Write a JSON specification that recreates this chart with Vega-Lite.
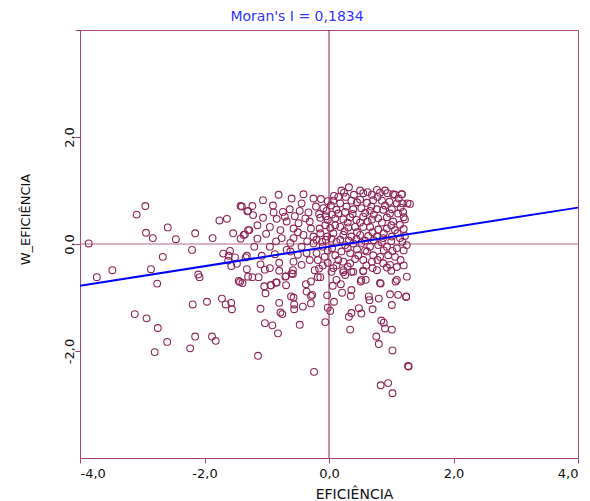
{
  "$schema": "https://vega.github.io/schema/vega-lite/v6.json",
  "width": 498,
  "height": 428,
  "autosize": {"type": "none"},
  "padding": {"left": 80, "top": 30, "right": 12, "bottom": 43},
  "background": "white",
  "config": {
    "view": {"stroke": "#b04a7e", "strokeWidth": 1},
    "font": "DejaVu Sans",
    "axis": {"grid": false, "domainColor": "#a8407a", "tickColor": "#a8407a", "tickSize": 5, "labelFont": "DejaVu Sans", "labelFontSize": 13, "labelColor": "#111111", "titleFont": "DejaVu Sans", "titleFontWeight": "normal", "titleColor": "#111111"}
  },
  "title": {"text": "Moran's I = 0,1834", "color": "#3333ff", "fontSize": 14, "fontWeight": "normal", "font": "DejaVu Sans", "anchor": "middle", "dx": -32, "offset": 6},
  "datasets": {
    "pts": [
      {"x":-3.86,"y":0.01},{"x":-2.95,"y":0.71},{"x":-3.09,"y":0.55},{"x":-2.94,"y":0.21},{"x":-2.83,"y":0.11},{"x":-2.59,"y":0.31},{"x":-2.46,"y":0.09},{"x":-2.15,"y":0.2},{"x":-1.87,"y":0.11},{"x":-1.76,"y":0.44},{"x":-1.64,"y":0.47},{"x":-1.42,"y":0.71},{"x":-1.31,"y":0.61},{"x":-1.54,"y":0.2},{"x":-1.42,"y":0.1},{"x":-1.35,"y":0.18},{"x":-1.3,"y":0.26},{"x":-2.2,"y":-0.11},{"x":-2.67,"y":-0.24},{"x":-2.86,"y":-0.47},{"x":-3.48,"y":-0.49},{"x":-3.73,"y":-0.62},{"x":-2.76,"y":-0.74},{"x":-2.1,"y":-0.57},{"x":-2.08,"y":-0.62},{"x":-1.7,"y":-0.18},{"x":-1.59,"y":-0.13},{"x":-1.61,"y":-0.22},{"x":-1.51,"y":-0.25},{"x":-1.62,"y":-0.31},{"x":-1.57,"y":-0.41},{"x":-1.48,"y":-0.37},{"x":-1.34,"y":-0.25},{"x":-1.45,"y":-0.69},{"x":-1.39,"y":-0.73},{"x":-1.3,"y":-0.61},{"x":-1.72,"y":-1.02},{"x":-1.66,"y":-1.13},{"x":-1.57,"y":-1.1},{"x":-1.56,"y":-1.22},{"x":-1.96,"y":-1.08},{"x":-2.19,"y":-1.13},{"x":-3.12,"y":-1.31},{"x":-2.93,"y":-1.39},{"x":-2.75,"y":-1.57},{"x":-2.6,"y":-1.83},{"x":-2.8,"y":-2.02},{"x":-2.15,"y":-1.73},{"x":-1.88,"y":-1.73},{"x":-1.82,"y":-1.81},{"x":-2.23,"y":-1.95},
      {"x":-0.81,"y":0.92},{"x":-0.41,"y":0.93},{"x":-1.06,"y":0.82},{"x":-0.44,"y":0.76},{"x":-0.13,"y":0.84},{"x":-1.23,"y":0.71},{"x":-1.4,"y":0.7},{"x":-1.3,"y":0.62},{"x":-1.22,"y":0.54},{"x":-1.06,"y":0.49},{"x":-0.89,"y":0.59},{"x":-0.74,"y":0.6},{"x":-0.63,"y":0.65},{"x":-0.47,"y":0.62},{"x":-0.33,"y":0.59},{"x":-0.21,"y":0.7},{"x":-0.09,"y":0.67},{"x":-0.16,"y":0.56},{"x":-0.84,"y":0.47},{"x":-0.71,"y":0.51},{"x":-0.68,"y":0.42},{"x":-0.57,"y":0.29},{"x":-0.49,"y":0.39},{"x":-0.31,"y":0.42},{"x":-0.14,"y":0.49},{"x":-0.05,"y":0.52},{"x":-0.29,"y":0.29},{"x":-0.15,"y":0.29},{"x":-0.06,"y":0.35},{"x":-0.78,"y":0.26},{"x":-1.28,"y":0.26},{"x":-1.37,"y":0.17},{"x":-1.01,"y":0.19},{"x":-0.76,"y":0.11},{"x":-0.57,"y":0.11},{"x":-0.41,"y":0.17},{"x":-0.25,"y":0.14},{"x":-0.14,"y":0.2},{"x":-0.03,"y":0.14},{"x":-0.44,"y":-0.05},{"x":-0.25,"y":0.01},{"x":-0.11,"y":0.04},{"x":-0.68,"y":-0.11},{"x":-0.62,"y":-0.14},{"x":-0.87,"y":-0.19},{"x":-1.08,"y":-0.22},{"x":-1.32,"y":-0.22},{"x":-0.36,"y":-0.17},{"x":-0.2,"y":-0.17},{"x":-0.31,"y":-0.3},{"x":-0.18,"y":-0.3},{"x":-0.07,"y":-0.24},{"x":-0.57,"y":-0.33},{"x":-0.44,"y":-0.39},{"x":-1.1,"y":-0.38},
      {"x":-1.32,"y":-0.47},{"x":-1.03,"y":-0.48},{"x":-1.23,"y":-0.62},{"x":-1.13,"y":-0.62},{"x":-0.58,"y":-0.49},{"x":-0.6,"y":-0.55},{"x":-0.16,"y":-0.46},{"x":-0.23,"y":-0.49},{"x":-0.14,"y":-0.62},{"x":-0.7,"y":-0.61},{"x":-0.85,"y":-0.72},{"x":-0.94,"y":-0.77},{"x":-1.04,"y":-0.79},{"x":-0.69,"y":-0.77},{"x":-0.37,"y":-0.75},{"x":-0.29,"y":-0.7},{"x":-0.36,"y":-0.89},{"x":-0.27,"y":-0.95},{"x":-0.29,"y":-0.97},{"x":-0.57,"y":-1.0},{"x":-0.61,"y":-0.98},{"x":-0.56,"y":-1.13},{"x":-0.56,"y":-1.22},{"x":-0.42,"y":-1.17},{"x":-0.29,"y":-1.11},{"x":-0.8,"y":-1.1},{"x":-0.78,"y":-1.28},{"x":-0.75,"y":-1.31},{"x":-1.1,"y":-1.21},{"x":-1.03,"y":-1.48},{"x":-0.91,"y":-1.52},{"x":-0.82,"y":-1.67},{"x":-0.47,"y":-1.51},{"x":-0.06,"y":-1.46},{"x":-0.03,"y":-0.96},{"x":-0.02,"y":-1.19},{"x":-1.14,"y":-2.09},{"x":-0.24,"y":-2.39},{"x":-1.43,"y":-0.71},{"x":-1.02,"y":-0.92},{"x":-0.69,"y":-0.6},{"x":-0.58,"y":-0.56},{"x":-0.18,"y":-0.62},{"x":-0.93,"y":-0.77},{"x":-0.84,"y":-0.72},
      {"x":0.06,"y":-0.78},{"x":0.19,"y":-0.75},{"x":0.21,"y":-0.91},{"x":0.36,"y":-0.86},{"x":0.35,"y":-0.97},{"x":0.51,"y":-0.7},{"x":0.59,"y":-0.67},{"x":0.83,"y":-0.74},{"x":1.07,"y":-0.7},{"x":0.64,"y":-0.98},{"x":0.65,"y":-1.05},{"x":0.8,"y":-1.02},{"x":0.98,"y":-0.94},{"x":1.11,"y":-0.95},{"x":1.24,"y":-0.99},{"x":1.01,"y":-1.14},{"x":0.08,"y":-1.08},{"x":0.02,"y":-1.25},{"x":0.48,"y":-1.2},{"x":0.36,"y":-1.29},{"x":0.52,"y":-1.3},{"x":0.32,"y":-1.36},{"x":0.7,"y":-1.22},{"x":0.34,"y":-1.6},{"x":0.84,"y":-1.43},{"x":0.88,"y":-1.47},{"x":0.9,"y":-1.58},{"x":1.01,"y":-1.6},{"x":0.76,"y":-1.73},{"x":0.8,"y":-1.87},{"x":1.02,"y":-1.99},{"x":1.28,"y":-2.29},{"x":0.83,"y":-2.64},{"x":0.95,"y":-2.6},{"x":1.02,"y":-2.79},
      {"x":0.04,"y":-0.52},{"x":0.23,"y":-0.53},{"x":0.36,"y":-0.52},{"x":0.55,"y":-0.51},{"x":0.12,"y":-0.67},{"x":0.26,"y":-0.58},{"x":0.52,"y":-0.67},{"x":0.82,"y":-0.73},{"x":1.09,"y":-0.67},{"x":1.25,"y":-0.61},
      {"x":0.32,"y":1.06},{"x":0.24,"y":0.96},{"x":0.27,"y":0.88},{"x":0.55,"y":0.95},{"x":0.69,"y":0.92},{"x":0.82,"y":0.96},{"x":0.94,"y":0.95},{"x":1.06,"y":0.92},{"x":1.17,"y":0.93},{"x":1.26,"y":0.76},{"x":1.3,"y":0.75},
      {"x":0.07,"y":0.81},{"x":0.18,"y":0.76},{"x":0.36,"y":0.81},{"x":0.5,"y":0.83},{"x":0.61,"y":0.77},{"x":0.71,"y":0.82},{"x":0.85,"y":0.81},{"x":0.97,"y":0.79},{"x":1.09,"y":0.76},{"x":1.19,"y":0.6},
      {"x":0.12,"y":0.64},{"x":0.26,"y":0.6},{"x":0.39,"y":0.65},{"x":0.52,"y":0.67},{"x":0.66,"y":0.62},{"x":0.77,"y":0.65},{"x":0.87,"y":0.64},{"x":1.01,"y":0.65},{"x":1.11,"y":0.57},{"x":1.22,"y":0.46},
      {"x":0.1,"y":0.48},{"x":0.23,"y":0.46},{"x":0.34,"y":0.5},{"x":0.44,"y":0.45},{"x":0.55,"y":0.51},{"x":0.69,"y":0.46},{"x":0.79,"y":0.48},{"x":0.93,"y":0.5},{"x":1.03,"y":0.42},{"x":1.14,"y":0.36},
      {"x":0.18,"y":0.32},{"x":0.31,"y":0.31},{"x":0.42,"y":0.32},{"x":0.55,"y":0.32},{"x":0.66,"y":0.32},{"x":0.79,"y":0.27},{"x":0.93,"y":0.29},{"x":1.06,"y":0.26},
      {"x":0.07,"y":0.2},{"x":0.23,"y":0.17},{"x":0.36,"y":0.14},{"x":0.5,"y":0.17},{"x":0.63,"y":0.15},{"x":0.77,"y":0.14},{"x":0.87,"y":0.11},{"x":1.01,"y":0.14},{"x":1.14,"y":0.11},{"x":1.25,"y":-0.02},
      {"x":0.12,"y":0.04},{"x":0.26,"y":-0.02},{"x":0.39,"y":0.01},{"x":0.52,"y":0.02},{"x":0.66,"y":-0.05},{"x":0.79,"y":-0.02},{"x":0.93,"y":-0.05},{"x":1.09,"y":-0.08},
      {"x":0.1,"y":-0.21},{"x":0.2,"y":-0.14},{"x":0.34,"y":-0.17},{"x":0.47,"y":-0.21},{"x":0.61,"y":-0.14},{"x":0.71,"y":-0.21},{"x":0.82,"y":-0.24},{"x":0.95,"y":-0.21},{"x":1.06,"y":-0.24},
      {"x":0.23,"y":-0.33},{"x":0.34,"y":-0.36},{"x":0.55,"y":-0.3},{"x":0.69,"y":-0.33},{"x":0.87,"y":-0.36},{"x":0.98,"y":-0.39},
      {"x":0.07,"y":-0.45},{"x":0.23,"y":-0.49},{"x":0.39,"y":-0.52},{"x":0.55,"y":-0.5},{"x":0.77,"y":-0.49},{"x":0.93,"y":-0.44},{"x":1.09,"y":-0.43},
      {"x":0.77,"y":1.01},{"x":1.03,"y":0.93},{"x":1.18,"y":0.76},{"x":1.17,"y":0.93},{"x":1.24,"y":-0.98},{"x":1.27,"y":-2.28},
      {"x":0.02,"y":0.3},{"x":0.05,"y":0.55},{"x":0.03,"y":0.72},{"x":0.15,"y":0.88},{"x":0.4,"y":0.92},{"x":0.62,"y":0.97},{"x":0.45,"y":0.78},{"x":0.78,"y":0.88},{"x":1.12,"y":0.85},{"x":0.28,"y":0.7},{"x":0.58,"y":0.58},{"x":0.9,"y":0.72},{"x":1.15,"y":0.68},{"x":0.15,"y":0.57},{"x":0.38,"y":0.56},{"x":0.72,"y":0.55},{"x":0.98,"y":0.57},{"x":1.2,"y":0.5},{"x":0.3,"y":0.4},{"x":0.5,"y":0.4},{"x":0.62,"y":0.42},{"x":0.85,"y":0.4},{"x":1.0,"y":0.35},{"x":1.2,"y":0.28},{"x":0.1,"y":0.35},{"x":0.25,"y":0.24},{"x":0.45,"y":0.22},{"x":0.7,"y":0.22},{"x":0.88,"y":0.2},{"x":1.1,"y":0.2},{"x":1.22,"y":0.15},{"x":0.04,"y":0.1},{"x":0.18,"y":0.08},{"x":0.32,"y":0.06},{"x":0.44,"y":0.09},{"x":0.58,"y":0.06},{"x":0.72,"y":0.07},{"x":0.85,"y":0.03},{"x":1.0,"y":0.05},{"x":1.18,"y":0.04},{"x":0.05,"y":-0.08},{"x":0.3,"y":-0.08},{"x":0.45,"y":-0.1},{"x":0.58,"y":-0.12},{"x":0.88,"y":-0.12},{"x":1.02,"y":-0.13},{"x":1.2,"y":-0.12},{"x":0.15,"y":-0.3},{"x":0.42,"y":-0.28},{"x":0.6,"y":-0.4},{"x":0.78,"y":-0.3},{"x":1.15,"y":-0.3},{"x":0.12,"y":-0.4},{"x":0.3,"y":-0.42},{"x":0.7,"y":-0.45},{"x":1.0,"y":-0.5},{"x":1.2,"y":-0.4},{"x":0.5,"y":1.0},{"x":0.9,"y":1.0},{"x":0.68,"y":0.7},{"x":0.08,"y":0.9},{"x":0.2,"y":1.0},
      {"x":-0.05,"y":0.08},{"x":-0.1,"y":-0.05},{"x":-0.02,"y":-0.12},{"x":-0.2,"y":0.08},{"x":-0.35,"y":0.05},{"x":-0.5,"y":0.22},{"x":-0.62,"y":0.02},{"x":-0.85,"y":0.05},{"x":-0.95,"y":0.32},{"x":-1.15,"y":0.1},{"x":-0.95,"y":-0.05},{"x":-0.8,"y":-0.35},{"x":-0.5,"y":-0.2},{"x":-0.02,"y":-0.35},{"x":-0.1,"y":-0.4},{"x":-0.02,"y":0.45},{"x":-0.04,"y":0.62},{"x":-0.02,"y":0.8},{"x":-0.25,"y":0.85},{"x":-0.6,"y":0.85},{"x":-0.9,"y":0.72},{"x":-0.55,"y":0.52},{"x":-0.38,"y":0.48},{"x":-1.15,"y":0.35},{"x":-0.95,"y":-0.45},{"x":-0.8,"y":-0.5},{"x":-1.2,"y":-0.05}
    ],
    "fit": [{"x": -4, "y": -0.78}, {"x": 4, "y": 0.68}],
    "zero": [{"z": 0}]
  },
  "layer": [
    {
      "data": {"name": "zero"},
      "mark": {"type": "rule", "color": "#b8648f", "strokeWidth": 1},
      "encoding": {"y": {"field": "z", "type": "quantitative", "scale": {"domain": [-4, 4], "nice": false, "zero": false}}}
    },
    {
      "data": {"name": "zero"},
      "mark": {"type": "rule", "color": "#8c1c50", "strokeWidth": 1},
      "encoding": {"x": {"field": "z", "type": "quantitative", "scale": {"domain": [-4, 4], "nice": false, "zero": false}}}
    },
    {
      "data": {"name": "pts"},
      "mark": {"type": "point", "shape": "circle", "filled": false, "stroke": "#8e2457", "strokeWidth": 1.1, "size": 46, "opacity": 1},
      "encoding": {
        "x": {"field": "x", "type": "quantitative", "scale": {"domain": [-4, 4], "nice": false, "zero": false},
          "axis": {"values": [-4, -2, 0, 2, 4], "title": "EFICIÊNCIA", "titleFontSize": 14, "labelPadding": 4,
            "labelExpr": "(datum.value < 0 ? '-' : '') + replace(format(abs(datum.value), '.1f'), '.', ',')",
            "titleX": 274, "titleY": 36, "titleBaseline": "middle", "titleAnchor": null}},
        "y": {"field": "y", "type": "quantitative", "scale": {"domain": [-4, 4], "nice": false, "zero": false},
          "axis": {"values": [-2, 0, 2, 4], "title": "W_EFICIÊNCIA", "titleFontSize": 13, "labelAngle": -90, "labelAlign": "center", "labelBaseline": "bottom", "labelPadding": -1,
            "labelExpr": "datum.value == 4 ? '' : (datum.value < 0 ? '-' : '') + replace(format(abs(datum.value), '.1f'), '.', ',')",
            "titleX": -55, "titleY": 189, "titleAngle": -90, "titleAlign": "center", "titleBaseline": "middle"}}
      }
    },
    {
      "data": {"name": "fit"},
      "mark": {"type": "line", "color": "#0000ff", "strokeWidth": 2},
      "encoding": {"x": {"field": "x", "type": "quantitative"}, "y": {"field": "y", "type": "quantitative"}}
    }
  ]
}
